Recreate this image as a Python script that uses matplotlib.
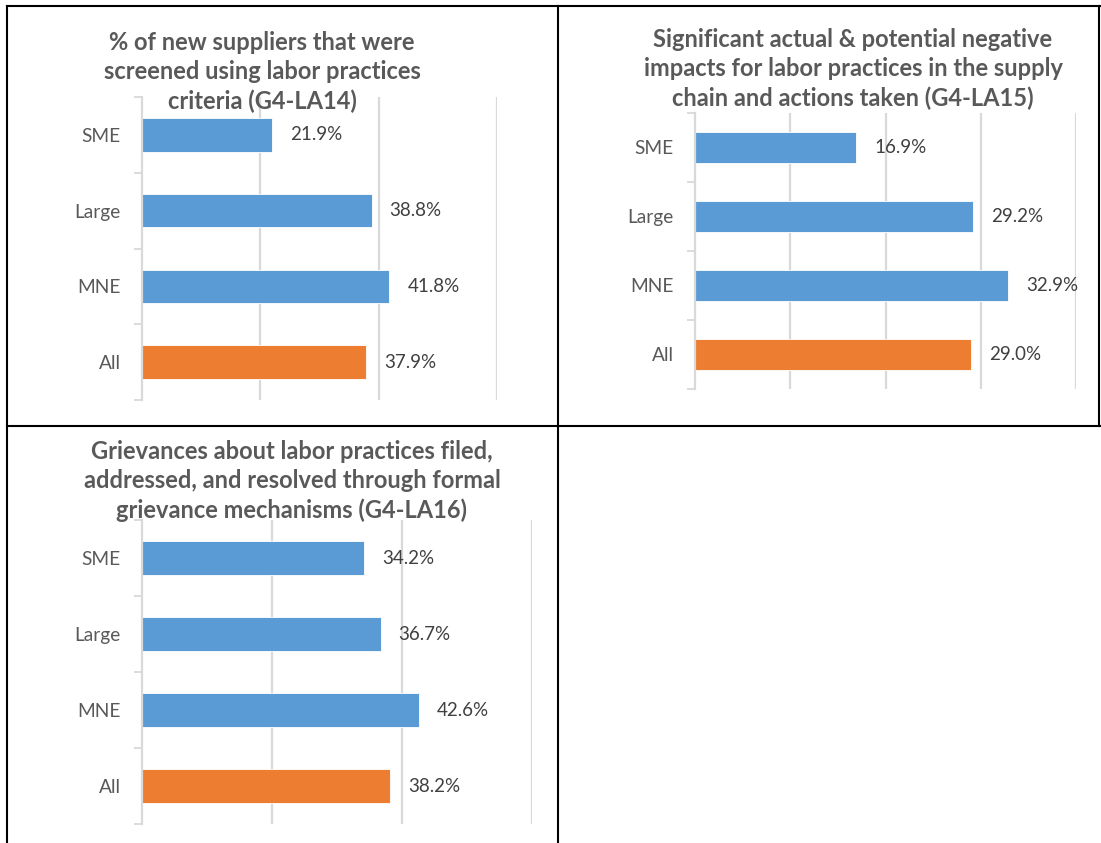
import matplotlib
matplotlib.use("Agg")
import matplotlib.pyplot as plt
from matplotlib.lines import Line2D

W, H = 1101, 843

categories = ["SME", "Large", "MNE", "All"]

titles = [
    "% of new suppliers that were\nscreened using labor practices\ncriteria (G4-LA14)",
    "Significant actual & potential negative\nimpacts for labor practices in the supply\nchain and actions taken (G4-LA15)",
    "Grievances about labor practices filed,\naddressed, and resolved through formal\ngrievance mechanisms (G4-LA16)",
]
la14 = [21.9, 38.8, 41.8, 37.9]
la15 = [16.9, 29.2, 32.9, 29.0]
la16 = [34.2, 36.7, 42.6, 38.2]
x_max = [60, 40, 60]
x_step = [20, 10, 20]

BLUE = "#5b9bd5"
ORANGE = "#ed7d31"
GRID = "#d9d9d9"
TXT = "#595959"
LBL = "#404040"
FONT = "Lato"

plt.rcParams["font.family"] = [FONT, "DejaVu Sans"]

fig = plt.figure(figsize=(W / 100, H / 100), dpi=100)


def px_axes(x0, y0, x1, y1):
    # pixel box (top-left origin) -> figure axes
    return fig.add_axes([x0 / W, 1 - y1 / H, (x1 - x0) / W, (y1 - y0) / H])


def px(x, y):
    return x / W, 1 - y / H


def bar_panel(ax, values, xmax, step):
    colors = [BLUE] * (len(values) - 1) + [ORANGE]
    pos = range(len(categories))
    ax.barh(pos, values, height=0.44, color=colors, edgecolor="white",
            linewidth=0.6, zorder=2)
    ax.set_ylim(len(categories) - 0.5, -0.5)
    ax.set_xlim(0, xmax)
    ax.set_xticks(range(step, xmax + 1, step))
    ax.tick_params(axis="x", length=0, labelbottom=False)
    ax.grid(axis="x", color=GRID, linewidth=1.6, zorder=0)
    ax.set_yticks(list(pos))
    ax.set_yticklabels(categories, fontsize=13.8, color=TXT)
    ax.tick_params(axis="y", which="major", length=0, pad=15.5)
    ax.set_yticks([i - 0.5 for i in range(len(categories) + 1)], minor=True)
    ax.tick_params(axis="y", which="minor", length=6, width=1.3, color=GRID)
    for s in ["top", "right", "bottom"]:
        ax.spines[s].set_visible(False)
    ax.spines["left"].set_color(GRID)
    ax.spines["left"].set_linewidth(1.6)
    ax.set_facecolor("none")
    for i, v in enumerate(values):
        ax.annotate(f"{v:.1f}%", (v, i), xytext=(13, 0),
                    textcoords="offset points", va="center", ha="left",
                    fontsize=13.5, color=LBL)


ax1 = px_axes(142, 97, 497, 400)
bar_panel(ax1, la14, x_max[0], x_step[0])
ax2 = px_axes(695, 113, 1076, 389)
bar_panel(ax2, la15, x_max[1], x_step[1])
ax3 = px_axes(142, 520, 532, 824)
bar_panel(ax3, la16, x_max[2], x_step[2])

title_pos = [(262, 72), (853, 69), (292, 481)]
for t, (tx, ty) in zip(titles, title_pos):
    fig.text(*px(tx, ty), t, ha="center", va="center", fontsize=17,
             fontweight="bold", color=TXT, linespacing=1.34)

# table borders around the panels
border = dict(color="black", linewidth=1.5)
segs = [
    ((7, 6), (1100, 6)),
    ((7, 6), (7, 843)),
    ((7, 426), (1100, 426)),
    ((558, 6), (558, 843)),
    ((1099, 6), (1099, 426)),
]
for (xa, ya), (xb, yb) in segs:
    p0, p1 = px(xa, ya), px(xb, yb)
    fig.add_artist(Line2D([p0[0], p1[0]], [p0[1], p1[1]], **border))

fig.savefig("out.png", dpi=100, facecolor="white")
